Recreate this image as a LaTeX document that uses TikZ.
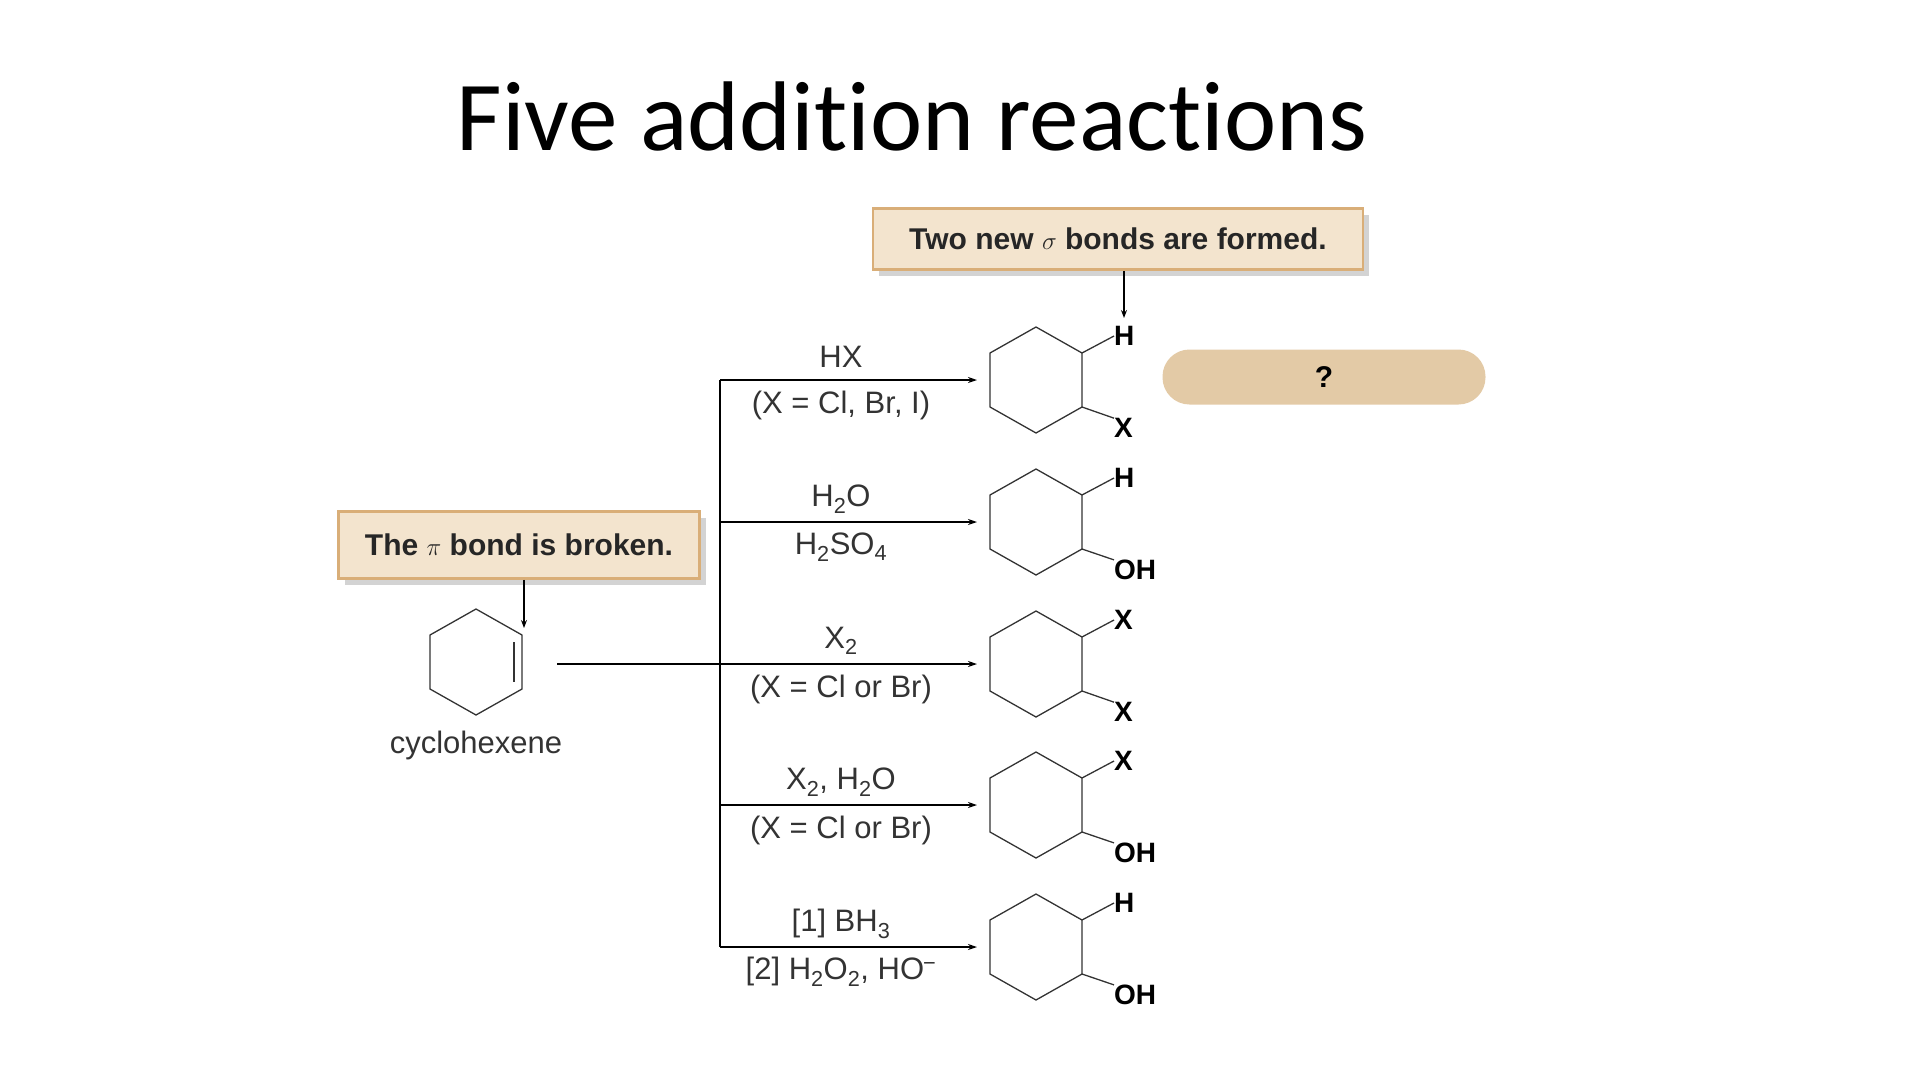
\documentclass[tikz,border=0pt]{standalone}
\usepackage{fontspec}
\setmainfont{Liberation Sans}
\newfontfamily\titlefont[Ligatures=NoCommon]{Carlito}
\usetikzlibrary{shadows,arrows.meta}
\definecolor{notefill}{HTML}{F3E4CE}
\definecolor{notedraw}{HTML}{D9AE78}
\definecolor{pill}{HTML}{E3CAA6}
\begin{document}
\begin{tikzpicture}[x=1pt,y=-1pt,
  note/.style={draw=notedraw, line width=2.5pt, fill=notefill, font=\fontsize{30}{34}\selectfont\bfseries, text=black!85, inner sep=0pt, drop shadow={shadow xshift=6pt, shadow yshift=-6pt, opacity=0.35}},
  reag/.style={font=\fontsize{31}{36}\selectfont, text=black!80},
  sub/.style={font=\fontsize{28}{32}\selectfont\bfseries, inner sep=0pt},
  rx/.style={line width=1.4pt, -{Stealth[length=9pt,width=6pt]}},
  ring/.style={line width=1.3pt, black!80},
  hex/.pic={\draw[ring] (0,-53) -- (46,-27) -- (46,27) -- (0,53) -- (-46,27) -- (-46,-27) -- cycle;}]
\useasboundingbox (0,0) rectangle (1920,1080);
\node[font=\titlefont\fontsize{99}{110}\selectfont] (title) at (912,116) {Five addition reactions};
\node[note, minimum width=490pt, minimum height=61pt] (top) at (1118,239) {Two new $\sigma$ bonds are formed.};
\node[note, minimum width=361pt, minimum height=67pt] (left) at (519,545) {The $\pi$ bond is broken.};
\node[fill=pill, rounded corners=27pt, minimum width=323pt, minimum height=55pt, font=\fontsize{30}{34}\selectfont\bfseries] (q) at (1324,377) {?};
% cyclohexene
\draw[ring] (476,609) -- (522,635) -- (522,689) -- (476,715) -- (430,689) -- (430,635) -- cycle;
\draw[ring] (514,642) -- (514,682);
\node[reag] (cyl) at (476,745) {cyclohexene};
\coordinate (la) at (524,582); \coordinate (lb) at (524,628);
\draw[line width=1.3pt,-{Stealth[length=8pt,width=6pt]}] (left.south -| la) -- (lb);
% rows
\coordinate (src) at (557,664);
\coordinate (vt) at (720,380); \coordinate (vb) at (720,947);
\draw[line width=1.4pt] (vt) -- (vb);
\draw[line width=1.4pt] (src) -- (720,664);
\foreach \i/\y/\ta/\tb/\sa/\sb in {
 1/380/{HX}/{(X = Cl, Br, I)}/H/X,
 2/522/{H\textsubscript{2}O}/{H\textsubscript{2}SO\textsubscript{4}}/H/OH,
 3/664/{X\textsubscript{2}}/{(X = Cl or Br)}/X/X,
 4/805/{X\textsubscript{2}, H\textsubscript{2}O}/{(X = Cl or Br)}/X/OH,
 5/947/{[1] BH\textsubscript{3}}/{[2] H\textsubscript{2}O\textsubscript{2}, HO\textsuperscript{\kern-1pt\textminus}}/H/OH}{
  \coordinate (s\i) at (720,\y);
  \coordinate (e\i) at (977,\y);
  \draw[rx] (s\i) -- (e\i);
  \node[reag] (a\i) at (841,\y-23) {\ta};
  \node[reag] (b\i) at (841,\y+25) {\tb};
  \pic at (1036,\y) {hex};
  \coordinate (ur\i) at (1082,\y-27); \coordinate (lr\i) at (1082,\y+27);
  \node[sub, anchor=west] (h\i) at (1114,\y-44) {\sa};
  \node[sub, anchor=west] (x\i) at (1114,\y+48) {\sb};
  \draw[ring] (ur\i) -- (h\i.west);
  \draw[ring] (lr\i) -- (x\i.north west);
}
\coordinate (ta) at (1124,318);
\draw[line width=1.3pt,-{Stealth[length=8pt,width=6pt]}] (top.south -| ta) -- (ta);
\end{tikzpicture}
\end{document}
